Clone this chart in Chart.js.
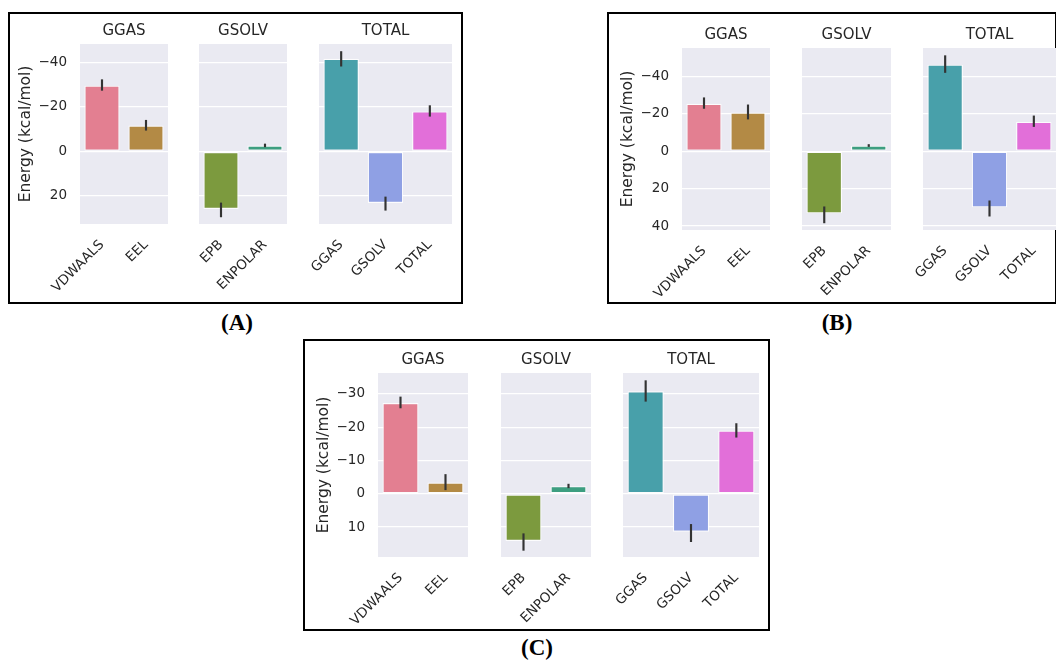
<!DOCTYPE html>
<html>
<head>
<meta charset="utf-8">
<script src="https://cdn.jsdelivr.net/npm/chart.js@4/dist/chart.umd.min.js"></script>
<style>
body{margin:0;width:1056px;height:661px;background:#fff;position:relative;overflow:hidden}
.panel{position:absolute;border:2px solid #000;box-sizing:border-box}
.cap{position:absolute;font:bold 23px "Liberation Serif";color:#000;transform:translate(-50%,-50%);white-space:nowrap}
canvas{position:absolute}
</style>
</head>
<body>
<div class="panel" style="left:8px;top:12px;width:455px;height:292px"></div>
<div class="panel" style="left:607px;top:12px;width:450px;height:292px"></div>
<div class="panel" style="left:303px;top:339px;width:467px;height:292px"></div>
<div class="cap" style="left:237px;top:323px">(A)</div>
<div class="cap" style="left:837px;top:323px">(B)</div>
<div class="cap" style="left:537px;top:648px">(C)</div>
<script>
// energy terms, grouped into the three facets
const terms = ['VDWAALS','EEL','EPB','ENPOLAR','GGAS','GSOLV','TOTAL']
const term_group = [0,0,1,1,2,2,2]
const group_names = ['GGAS','GSOLV','TOTAL']
const term_colors = ['#e37f91','#b38a45','#7c9a3e','#3d9e80','#48a0aa','#8fa0e4','#e26fd9']

// (A)
const energy_A = [-29.6,-11.6,26.0,-2.6,-41.7,23.3,-18.0]
const err_lo_A = [-32.3,-14.0,23.3,-3.3,-45.0,20.6,-20.6]
const err_hi_A = [-27.5,-9.5,29.6,-2.0,-38.4,26.6,-15.8]
const ticks_A = [-40,-20,0,20]

// (B)
const energy_B = [-25.4,-20.7,33.2,-3.0,-46.3,30.0,-15.7]
const err_lo_B = [-28.6,-24.8,29.7,-3.6,-51.1,26.5,-18.9]
const err_hi_B = [-22.9,-17.2,38.3,-2.5,-42.1,34.7,-13.2]
const ticks_B = [-40,-20,0,20,40]

// (C)
const energy_C = [-27.3,-3.4,14.2,-2.3,-30.8,11.4,-19.0]
const err_lo_C = [-29.1,-5.8,12.0,-2.9,-34.0,9.2,-17.0]
const err_hi_C = [-25.8,-1.2,17.0,-1.8,-27.8,14.4,-21.1]
const ticks_C = [-30,-20,-10,0,10]

// where each facet's plot area sits on the page
const layout_A = {top:44, bottom:224, lefts:[80,199.3,318.7], rights:[168,287.3,451.7], ymin:-48.4, ymax:32.8}
const layout_B = {top:48.3, bottom:230, lefts:[682.3,802.3,923], rights:[770.7,891,1056], ymin:-55.2, ymax:42.1}
const layout_C = {top:373.3, bottom:557.7, lefts:[378.3,500.7,622.7], rights:[468.3,590.7,758.3], ymin:-36.3, ymax:19.0}

const TB = 30   // title block height
const XH = 95   // x axis height
const AXW = 63  // y axis width (first facet only)

Chart.defaults.font.family = 'DejaVu Sans'
Chart.defaults.color = '#262626'

const bg_plugin = {
    id:'bg',
    beforeDraw(chart){
        const {ctx, chartArea:a} = chart
        ctx.save()
        ctx.fillStyle = '#eaeaf2'
        ctx.fillRect(a.left, a.top, a.right-a.left, a.bottom-a.top)
        ctx.restore()
    }
}

function minus_fmt(v){
    return v < 0 ? '\u2212' + Math.abs(v) : String(v)
}

function make_facet(g, energy, lo, hi, tick_vals, lay){
    const first = g === 0
    const idx = []
    terms.forEach((t,i)=>{ if(term_group[i]===g) idx.push(i) })

    const plotW = lay.rights[g] - lay.lefts[g]
    const plotH = lay.bottom - lay.top
    const padL = first ? 0 : 50
    const axW = first ? AXW : 0
    const padR = 12
    const w = Math.round(padL + axW + plotW + padR)
    const h = Math.round(TB + plotH + XH)

    const cv = document.createElement('canvas')
    cv.width = w; cv.height = h
    cv.style.left = (lay.lefts[g] - axW - padL) + 'px'
    cv.style.top = (lay.top - TB) + 'px'
    cv.style.width = w + 'px'
    cv.style.height = h + 'px'
    document.body.appendChild(cv)

    new Chart(cv, {
        type:'bar',
        data:{
            labels: idx.map(i=>terms[i]),
            datasets:[
                {
                    data: idx.map(i=>[lo[i], hi[i]]),
                    backgroundColor:'#333333',
                    borderWidth:0,
                    barThickness:1.5,
                    grouped:false,
                    order:0
                },
                {
                    data: idx.map(i=>energy[i]),
                    backgroundColor: idx.map(i=>term_colors[i]),
                    borderColor:'rgba(255,255,255,0.85)',
                    borderWidth:1.2,
                    borderSkipped:false,
                    barPercentage:0.8,
                    categoryPercentage:1,
                    grouped:false,
                    order:1
                }
            ]
        },
        options:{
            responsive:false,
            animation:false,
            devicePixelRatio:1,
            layout:{padding:{left:padL, right:padR, top:0, bottom:0}},
            plugins:{
                legend:{display:false},
                tooltip:{enabled:false},
                title:{
                    display:true,
                    text:group_names[g],
                    fullSize:false,
                    color:'#262626',
                    font:{size:15, weight:'normal', lineHeight:1.2},
                    padding:{top:8, bottom:4}
                }
            },
            scales:{
                x:{
                    grid:{display:false},
                    border:{display:false},
                    ticks:{autoSkip:false, maxRotation:45, minRotation:45, padding:5, font:{size:13.5}},
                    afterFit(scale){ scale.height = XH }
                },
                y:{
                    reverse:true,
                    min:lay.ymin,
                    max:lay.ymax,
                    afterBuildTicks(scale){ scale.ticks = tick_vals.map(v=>({value:v})) },
                    grid:{color:'#ffffff', lineWidth:1.3, drawTicks:false},
                    border:{display:false},
                    ticks:{display:first, padding:13, font:{size:13.5}, callback:minus_fmt},
                    title:{display:first, text:'Energy (kcal/mol)', font:{size:15.5}, padding:{top:0,bottom:0}},
                    afterFit(scale){ scale.width = axW }
                }
            }
        },
        plugins:[bg_plugin]
    })
}

for (let g=0; g<3; g++){
    make_facet(g, energy_A, err_lo_A, err_hi_A, ticks_A, layout_A)
    make_facet(g, energy_B, err_lo_B, err_hi_B, ticks_B, layout_B)
    make_facet(g, energy_C, err_lo_C, err_hi_C, ticks_C, layout_C)
}
</script>
</body>
</html>
